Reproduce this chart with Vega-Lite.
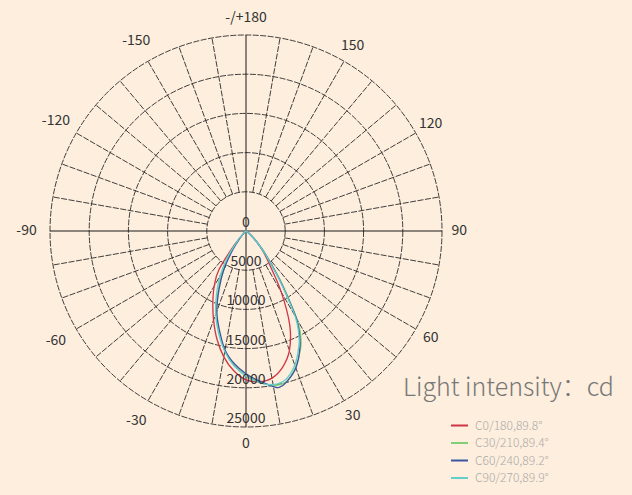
{
  "$schema": "https://vega.github.io/schema/vega-lite/v6.json",
  "width": 392,
  "height": 392,
  "autosize": {"type": "none"},
  "padding": {"left": 50, "top": 35, "right": 190, "bottom": 68},
  "background": "#fdeedd",
  "config": {"view": {"stroke": null}, "font": "Noto Sans CJK SC"},
  "datasets": {
    "rings": [{"r": 5000}, {"r": 10000}, {"r": 15000}, {"r": 20000}, {"r": 25000}],
    "radials": [
      {"angle": -170}, {"angle": -160}, {"angle": -150}, {"angle": -140}, {"angle": -130}, {"angle": -120}, {"angle": -110}, {"angle": -100},
      {"angle": -80}, {"angle": -70}, {"angle": -60}, {"angle": -50}, {"angle": -40}, {"angle": -30}, {"angle": -20}, {"angle": -10},
      {"angle": 10}, {"angle": 20}, {"angle": 30}, {"angle": 40}, {"angle": 50}, {"angle": 60}, {"angle": 70}, {"angle": 80},
      {"angle": 100}, {"angle": 110}, {"angle": 120}, {"angle": 130}, {"angle": 140}, {"angle": 150}, {"angle": 160}, {"angle": 170}
    ],
    "axes": [{"angle": 0}, {"angle": 90}, {"angle": 180}, {"angle": -90}],
    "ivalues": [{"v": 0, "label": "0"}, {"v": 5000, "label": "5000"}, {"v": 10000, "label": "10000"}, {"v": 15000, "label": "15000"}, {"v": 20000, "label": "20000"}, {"v": 25000, "label": "25000"}],
    "alabels": [
      {"angle": 180, "label": "-/+180"}, {"angle": 150, "label": "150"}, {"angle": 120, "label": "120"}, {"angle": 90, "label": "90"},
      {"angle": 60, "label": "60"}, {"angle": 30, "label": "30"}, {"angle": 0, "label": "0"}, {"angle": -30, "label": "-30"},
      {"angle": -60, "label": "-60"}, {"angle": -90, "label": "-90"}, {"angle": -120, "label": "-120"}, {"angle": -150, "label": "-150"}
    ],
    "curves": [
      {"s": "C0/180,89.8°", "angle": -90, "cd": 0}, {"s": "C0/180,89.8°", "angle": -60, "cd": 0}, {"s": "C0/180,89.8°", "angle": -50, "cd": 100},
      {"s": "C0/180,89.8°", "angle": -45, "cd": 300}, {"s": "C0/180,89.8°", "angle": -40, "cd": 2200}, {"s": "C0/180,89.8°", "angle": -35, "cd": 6000},
      {"s": "C0/180,89.8°", "angle": -30, "cd": 8100}, {"s": "C0/180,89.8°", "angle": -25, "cd": 10000}, {"s": "C0/180,89.8°", "angle": -20, "cd": 12100},
      {"s": "C0/180,89.8°", "angle": -15, "cd": 14300}, {"s": "C0/180,89.8°", "angle": -10, "cd": 16300}, {"s": "C0/180,89.8°", "angle": -5, "cd": 17900},
      {"s": "C0/180,89.8°", "angle": 0, "cd": 19000}, {"s": "C0/180,89.8°", "angle": 5, "cd": 19300}, {"s": "C0/180,89.8°", "angle": 10, "cd": 19050},
      {"s": "C0/180,89.8°", "angle": 15, "cd": 18000}, {"s": "C0/180,89.8°", "angle": 20, "cd": 16200}, {"s": "C0/180,89.8°", "angle": 25, "cd": 13200},
      {"s": "C0/180,89.8°", "angle": 30, "cd": 9000}, {"s": "C0/180,89.8°", "angle": 35, "cd": 5300}, {"s": "C0/180,89.8°", "angle": 40, "cd": 3400},
      {"s": "C0/180,89.8°", "angle": 45, "cd": 1900}, {"s": "C0/180,89.8°", "angle": 50, "cd": 800}, {"s": "C0/180,89.8°", "angle": 60, "cd": 150},
      {"s": "C0/180,89.8°", "angle": 90, "cd": 0},

      {"s": "C30/210,89.4°", "angle": -90, "cd": 0}, {"s": "C30/210,89.4°", "angle": -50, "cd": 100}, {"s": "C30/210,89.4°", "angle": -45, "cd": 400},
      {"s": "C30/210,89.4°", "angle": -40, "cd": 1500}, {"s": "C30/210,89.4°", "angle": -35, "cd": 3800}, {"s": "C30/210,89.4°", "angle": -30, "cd": 6000},
      {"s": "C30/210,89.4°", "angle": -25, "cd": 8400}, {"s": "C30/210,89.4°", "angle": -20, "cd": 11000}, {"s": "C30/210,89.4°", "angle": -15, "cd": 13300},
      {"s": "C30/210,89.4°", "angle": -10, "cd": 15500}, {"s": "C30/210,89.4°", "angle": -5, "cd": 17200}, {"s": "C30/210,89.4°", "angle": 0, "cd": 18400},
      {"s": "C30/210,89.4°", "angle": 5, "cd": 19300}, {"s": "C30/210,89.4°", "angle": 10, "cd": 20000}, {"s": "C30/210,89.4°", "angle": 15, "cd": 19900},
      {"s": "C30/210,89.4°", "angle": 20, "cd": 18500}, {"s": "C30/210,89.4°", "angle": 25, "cd": 16500}, {"s": "C30/210,89.4°", "angle": 28, "cd": 14800},
      {"s": "C30/210,89.4°", "angle": 30, "cd": 13000}, {"s": "C30/210,89.4°", "angle": 32, "cd": 10500}, {"s": "C30/210,89.4°", "angle": 35, "cd": 7500},
      {"s": "C30/210,89.4°", "angle": 40, "cd": 4000}, {"s": "C30/210,89.4°", "angle": 45, "cd": 2000}, {"s": "C30/210,89.4°", "angle": 50, "cd": 700},
      {"s": "C30/210,89.4°", "angle": 60, "cd": 100}, {"s": "C30/210,89.4°", "angle": 90, "cd": 0},

      {"s": "C60/240,89.2°", "angle": -90, "cd": 0}, {"s": "C60/240,89.2°", "angle": -50, "cd": 100}, {"s": "C60/240,89.2°", "angle": -45, "cd": 300},
      {"s": "C60/240,89.2°", "angle": -40, "cd": 1200}, {"s": "C60/240,89.2°", "angle": -35, "cd": 3000}, {"s": "C60/240,89.2°", "angle": -30, "cd": 5600},
      {"s": "C60/240,89.2°", "angle": -25, "cd": 8100}, {"s": "C60/240,89.2°", "angle": -20, "cd": 10900}, {"s": "C60/240,89.2°", "angle": -15, "cd": 13100},
      {"s": "C60/240,89.2°", "angle": -10, "cd": 15400}, {"s": "C60/240,89.2°", "angle": -5, "cd": 17000}, {"s": "C60/240,89.2°", "angle": 0, "cd": 18200},
      {"s": "C60/240,89.2°", "angle": 5, "cd": 19200}, {"s": "C60/240,89.2°", "angle": 10, "cd": 20150}, {"s": "C60/240,89.2°", "angle": 12, "cd": 20400},
      {"s": "C60/240,89.2°", "angle": 15, "cd": 19950}, {"s": "C60/240,89.2°", "angle": 20, "cd": 18600}, {"s": "C60/240,89.2°", "angle": 25, "cd": 16300},
      {"s": "C60/240,89.2°", "angle": 28, "cd": 14400}, {"s": "C60/240,89.2°", "angle": 30, "cd": 12800}, {"s": "C60/240,89.2°", "angle": 32, "cd": 10200},
      {"s": "C60/240,89.2°", "angle": 35, "cd": 7200}, {"s": "C60/240,89.2°", "angle": 40, "cd": 3800}, {"s": "C60/240,89.2°", "angle": 45, "cd": 1800},
      {"s": "C60/240,89.2°", "angle": 50, "cd": 600}, {"s": "C60/240,89.2°", "angle": 60, "cd": 100}, {"s": "C60/240,89.2°", "angle": 90, "cd": 0},

      {"s": "C90/270,89.9°", "angle": -90, "cd": 0}, {"s": "C90/270,89.9°", "angle": -50, "cd": 100}, {"s": "C90/270,89.9°", "angle": -45, "cd": 400},
      {"s": "C90/270,89.9°", "angle": -40, "cd": 1800}, {"s": "C90/270,89.9°", "angle": -35, "cd": 4200}, {"s": "C90/270,89.9°", "angle": -30, "cd": 6600},
      {"s": "C90/270,89.9°", "angle": -25, "cd": 8900}, {"s": "C90/270,89.9°", "angle": -20, "cd": 11300}, {"s": "C90/270,89.9°", "angle": -15, "cd": 13500},
      {"s": "C90/270,89.9°", "angle": -10, "cd": 15600}, {"s": "C90/270,89.9°", "angle": -5, "cd": 17300}, {"s": "C90/270,89.9°", "angle": 0, "cd": 18500},
      {"s": "C90/270,89.9°", "angle": 5, "cd": 19400}, {"s": "C90/270,89.9°", "angle": 10, "cd": 19900}, {"s": "C90/270,89.9°", "angle": 15, "cd": 19600},
      {"s": "C90/270,89.9°", "angle": 20, "cd": 18200}, {"s": "C90/270,89.9°", "angle": 25, "cd": 16000}, {"s": "C90/270,89.9°", "angle": 28, "cd": 14200},
      {"s": "C90/270,89.9°", "angle": 30, "cd": 12500}, {"s": "C90/270,89.9°", "angle": 32, "cd": 10000}, {"s": "C90/270,89.9°", "angle": 35, "cd": 7000},
      {"s": "C90/270,89.9°", "angle": 40, "cd": 3700}, {"s": "C90/270,89.9°", "angle": 45, "cd": 1800}, {"s": "C90/270,89.9°", "angle": 50, "cd": 600},
      {"s": "C90/270,89.9°", "angle": 60, "cd": 100}, {"s": "C90/270,89.9°", "angle": 90, "cd": 0}
    ]
  },
  "layer": [
    {
      "data": {"name": "rings"},
      "transform": [{"calculate": "0", "as": "c"}],
      "mark": {"type": "point", "shape": "circle", "filled": false, "stroke": "#2a2a2a", "strokeWidth": 0.9, "strokeDash": [6, 1.5], "opacity": 1},
      "encoding": {
        "x": {"field": "c", "type": "quantitative", "scale": {"domain": [-25000, 25000], "nice": false, "zero": false}, "axis": null},
        "y": {"field": "c", "type": "quantitative", "scale": {"domain": [-25000, 25000], "nice": false, "zero": false}, "axis": null},
        "size": {"field": "r", "type": "quantitative", "scale": {"type": "pow", "exponent": 2, "domain": [0, 25000], "range": [0, 153664], "zero": true}, "legend": null}
      }
    },
    {
      "data": {"name": "radials"},
      "transform": [
        {"calculate": "datum.angle * PI / 180", "as": "a"},
        {"calculate": "5000 * sin(datum.a)", "as": "x1"},
        {"calculate": "-5000 * cos(datum.a)", "as": "y1"},
        {"calculate": "25000 * sin(datum.a)", "as": "x2"},
        {"calculate": "-25000 * cos(datum.a)", "as": "y2"}
      ],
      "mark": {"type": "rule", "stroke": "#2a2a2a", "strokeWidth": 0.9, "strokeDash": [6, 1.5]},
      "encoding": {
        "x": {"field": "x1", "type": "quantitative", "scale": {"domain": [-25000, 25000], "nice": false, "zero": false}, "axis": null},
        "y": {"field": "y1", "type": "quantitative", "scale": {"domain": [-25000, 25000], "nice": false, "zero": false}, "axis": null},
        "x2": {"field": "x2"},
        "y2": {"field": "y2"}
      }
    },
    {
      "data": {"name": "axes"},
      "transform": [
        {"calculate": "datum.angle * PI / 180", "as": "a"},
        {"calculate": "0", "as": "x1"},
        {"calculate": "0", "as": "y1"},
        {"calculate": "25000 * sin(datum.a)", "as": "x2"},
        {"calculate": "-25000 * cos(datum.a)", "as": "y2"}
      ],
      "mark": {"type": "rule", "stroke": "#1a1a1a", "strokeWidth": 1},
      "encoding": {
        "x": {"field": "x1", "type": "quantitative", "scale": {"domain": [-25000, 25000], "nice": false, "zero": false}, "axis": null},
        "y": {"field": "y1", "type": "quantitative", "scale": {"domain": [-25000, 25000], "nice": false, "zero": false}, "axis": null},
        "x2": {"field": "x2"},
        "y2": {"field": "y2"}
      }
    },
    {
      "data": {"name": "curves"},
      "transform": [
        {"calculate": "datum.angle * PI / 180", "as": "a"},
        {"calculate": "datum.cd * sin(datum.a)", "as": "px"},
        {"calculate": "-datum.cd * cos(datum.a)", "as": "py"}
      ],
      "mark": {"type": "line", "strokeWidth": 1.3, "interpolate": "cardinal"},
      "encoding": {
        "x": {"field": "px", "type": "quantitative", "scale": {"domain": [-25000, 25000], "nice": false, "zero": false}, "axis": null},
        "y": {"field": "py", "type": "quantitative", "scale": {"domain": [-25000, 25000], "nice": false, "zero": false}, "axis": null},
        "order": {"field": "angle", "type": "quantitative"},
        "color": {
          "field": "s", "type": "nominal",
          "scale": {"domain": ["C0/180,89.8°", "C30/210,89.4°", "C60/240,89.2°", "C90/270,89.9°"], "range": ["#cf3545", "#7fcf74", "#3b56a0", "#66cccc"]},
          "legend": {
            "orient": "none", "legendX": 353, "legendY": 341,
            "title": "Light intensity：cd", "titleFontSize": 25, "titleFontWeight": 300, "titleColor": "#777", "titleLimit": 400, "titlePadding": 15,
            "symbolType": "stroke", "symbolStrokeWidth": 2, "symbolSize": 289, "symbolOffset": 47,
            "labelFontSize": 12, "labelColor": "#aaa", "labelFontWeight": 300, "labelOffset": 6, "rowPadding": 1.5
          }
        }
      }
    },
    {
      "data": {"name": "ivalues"},
      "transform": [{"calculate": "-datum.v", "as": "py"}, {"calculate": "0", "as": "px"}],
      "mark": {"type": "text", "fontSize": 14, "color": "#333", "align": "center", "baseline": "bottom", "dy": -1},
      "encoding": {
        "x": {"field": "px", "type": "quantitative", "scale": {"domain": [-25000, 25000], "nice": false, "zero": false}, "axis": null},
        "y": {"field": "py", "type": "quantitative", "scale": {"domain": [-25000, 25000], "nice": false, "zero": false}, "axis": null},
        "text": {"field": "label"}
      }
    },
    {
      "data": {"name": "alabels"},
      "transform": [
        {"calculate": "datum.angle * PI / 180", "as": "a"},
        {"calculate": "datum.angle < 0 && datum.angle > -180 ? 28000 : 27200", "as": "rr"},
        {"calculate": "datum.rr * sin(datum.a)", "as": "lx"},
        {"calculate": "-datum.rr * cos(datum.a)", "as": "ly"}
      ],
      "mark": {"type": "text", "fontSize": 14, "color": "#333", "align": "center", "baseline": "middle"},
      "encoding": {
        "x": {"field": "lx", "type": "quantitative", "scale": {"domain": [-25000, 25000], "nice": false, "zero": false}, "axis": null},
        "y": {"field": "ly", "type": "quantitative", "scale": {"domain": [-25000, 25000], "nice": false, "zero": false}, "axis": null},
        "text": {"field": "label"}
      }
    }
  ]
}
